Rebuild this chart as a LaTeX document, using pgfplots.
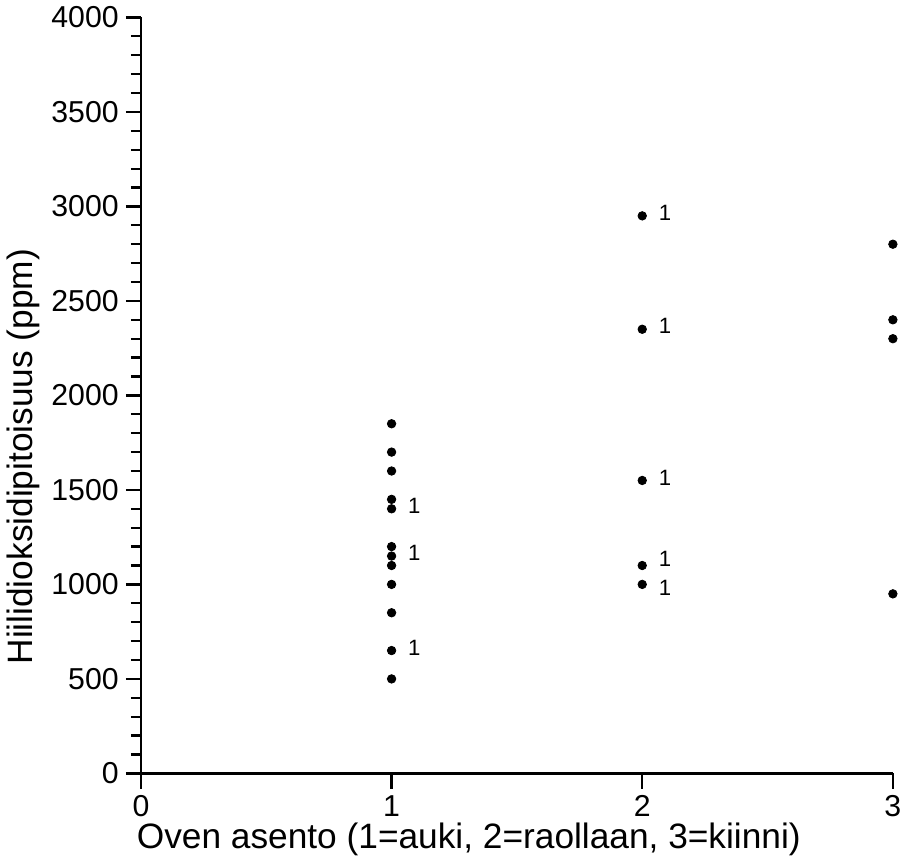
\documentclass[border=0pt]{standalone}
\usepackage{pgfplots}
\pgfplotsset{compat=1.18}
\usepackage{fontspec}
\setmainfont{Liberation Sans}

\pgfplotsset{
    onelabel/.style={only marks, mark=none,
        nodes near coords, point meta=explicit symbolic,
        every node near coord/.style={font=\fontsize{11}{11}\selectfont,
            inner sep=0pt, anchor=west, xshift=8pt, yshift=#1}},
}

\begin{document}
\begin{tikzpicture}
\begin{axis}[
    width=373pt, height=375pt, scale only axis,
    xmin=0, xmax=3, ymin=0, ymax=4000,
    axis x line*=bottom, axis y line*=left,
    axis line style={line width=1.1pt, -},
    xtick={0,1,2,3},
    ytick distance=500,
    minor y tick num=4,
    tick align=outside,
    major tick length=7.5pt, minor tick length=5pt,
    tick style={line width=1.1pt, black},
    every tick label/.append style={font=\fontsize{15}{17}\selectfont},
    /pgf/number format/assume math mode=true,
    /pgf/number format/set thousands separator={},
    xlabel={Oven asento (1=auki, 2=raollaan, 3=kiinni)},
    ylabel={Hiilidioksidipitoisuus (ppm)},
    label style={font=\fontsize{17.5}{19}\selectfont},
    xlabel style={at={(ticklabel cs:0.436)}, yshift=4pt},
    ylabel style={at={(ticklabel cs:0.419)}, yshift=-1pt},
    clip=false,
]
% all measurements
\addplot[only marks, mark=*, mark size=2.1pt, black] coordinates {
    (1,1850) (1,1700) (1,1600) (1,1450) (1,1400) (1,1200) (1,1150)
    (1,1100) (1,1000) (1,850) (1,650) (1,500)
    (2,2950) (2,2350) (2,1550) (2,1100) (2,1000)
    (3,2800) (3,2400) (3,2300) (3,950)
};
% points marked with "1"
\addplot[onelabel=1.5pt] coordinates {
    (1,1400)[1] (1,1150)[1] (1,650)[1]
    (2,2950)[1] (2,2350)[1] (2,1550)[1]
};
\addplot[onelabel=3.5pt] coordinates {(2,1100)[1]};
\addplot[onelabel=-1.5pt] coordinates {(2,1000)[1]};
\end{axis}
\end{tikzpicture}
\end{document}
